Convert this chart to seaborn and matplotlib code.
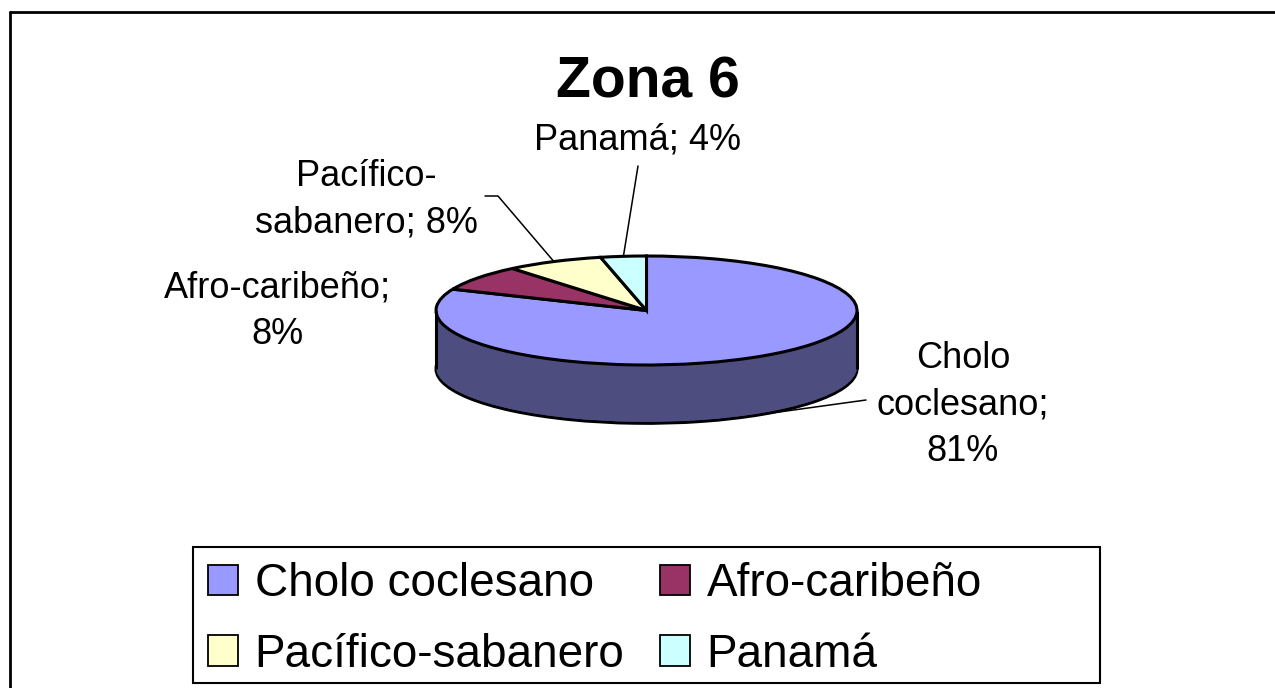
import numpy as np
import matplotlib
matplotlib.use("Agg")
import matplotlib.pyplot as plt
from matplotlib.lines import Line2D
from matplotlib.patches import Patch, Rectangle
import seaborn as sns

# datos de la zona
titulo = "Zona 6"
grupos = ["Cholo coclesano", "Afro-caribeño", "Pacífico-sabanero", "Panamá"]
porcentajes = [81.4, 7.6, 7.5, 3.5]
colores = ["#9999FF", "#993366", "#FFFFCC", "#CCFFFF"]
# etiquetas con los saltos de línea de Excel
etiquetas = [
    "Cholo\ncoclesano;\n{:.0f}%".format(porcentajes[0]),
    "Afro-caribeño;\n{:.0f}%".format(porcentajes[1]),
    "Pacífico-\nsabanero; {:.0f}%".format(porcentajes[2]),
    "Panamá; {:.0f}%".format(porcentajes[3]),
]

sns.set_style("white")
plt.rcParams["font.family"] = ["Liberation Sans", "DejaVu Sans"]
plt.rcParams["text.color"] = "black"

W, H = 1275, 688
fig = plt.figure(figsize=(W / 100, H / 100), dpi=100)
ax = fig.add_axes([0, 0, 1, 1])

pal = sns.color_palette(colores)
lados = [tuple(c * 0.5 for c in col) for col in pal]
prof = 1.07
kw = dict(startangle=90, counterclock=False)

# cuerpo del "3D": base con borde, relleno apilado (de abajo hacia arriba) y cara superior
ax.pie(porcentajes, colors=lados, center=(0, -prof),
       wedgeprops=dict(edgecolor="black", linewidth=2.2), **kw)
for d in np.linspace(prof, 0, 40, endpoint=False)[1:]:
    ax.pie(porcentajes, colors=lados, center=(0, -d), wedgeprops=dict(linewidth=0), **kw)
ax.vlines([-1, 1], -prof, 0, colors="black", linewidth=2.2)
wedges, _ = ax.pie(porcentajes, colors=pal,
                   wedgeprops=dict(edgecolor="black", linewidth=2.2), **kw)

# elipse: centro (646.5, 310.5) px, radios 210.5 x 54.5 px
cx, cy, rx, ry = 646.5, 310.5, 210.5, 54.5
ax.set_aspect("auto")
ax.set_xlim(-cx / rx, (W - cx) / rx)
ax.set_ylim(-(H - cy) / ry, cy / ry)
ax.axis("off")


def borde(w, abajo=False):
    t = np.deg2rad((w.theta1 + w.theta2) / 2)
    return np.cos(t), np.sin(t) - (prof if abajo else 0)


# etiquetas de datos (centro del bloque en px de imagen)
pos = [(963, 405), (277, 311), (366, 200), (638, 140)]
for txt, (px, py) in zip(etiquetas, pos):
    fig.text(px / W, 1 - py / H, txt, ha="center", va="center",
             fontsize=26, linespacing=1.44)

linea = dict(arrowstyle="-", color="black", lw=1.1, shrinkA=0, shrinkB=0)
ax.annotate("", xy=borde(wedges[3]), xytext=(638, H - 166),
            textcoords="figure pixels", arrowprops=linea)
ax.annotate("", xy=borde(wedges[0], abajo=True), xytext=(866, H - 400),
            textcoords="figure pixels", arrowprops=linea)
bx, by = ax.transData.transform(borde(wedges[2]))
angB = np.degrees(np.arctan2((H - 196) - by, 498 - bx))
ax.annotate("", xy=borde(wedges[2]), xytext=(485, H - 196),
            textcoords="figure pixels",
            arrowprops=dict(linea, connectionstyle="angle,angleA=0,angleB={:.2f},rad=0".format(angB)))

fig.text(648 / W, 1 - 97 / H, titulo, ha="center", va="baseline",
         fontsize=41, fontweight="bold")

# leyenda
orden = [0, 2, 1, 3]
handles = [Patch(facecolor=pal[i], edgecolor="black", linewidth=1.3, label=grupos[i]) for i in orden]
fig.legend(handles=handles, ncol=2, loc="upper left",
           bbox_to_anchor=(208 / W, 1 - 562 / H), frameon=False, fontsize=33,
           handlelength=0.65, handleheight=0.65, handletextpad=0.37,
           columnspacing=0.77, labelspacing=0.58, borderpad=0, borderaxespad=0)
fig.add_artist(Rectangle((193 / W, 5 / H), 907 / W, 136 / H, transform=fig.transFigure,
                         fill=False, edgecolor="black", linewidth=1.5))

# marco del gráfico
fig.add_artist(Line2D([10.3 / W, 10.3 / W], [0, 1 - 12 / H], color="black", lw=2,
                      transform=fig.transFigure))
fig.add_artist(Line2D([10.3 / W, 1], [1 - 12 / H, 1 - 12 / H], color="black", lw=2,
                      transform=fig.transFigure))

fig.savefig("out.png", dpi=100)
